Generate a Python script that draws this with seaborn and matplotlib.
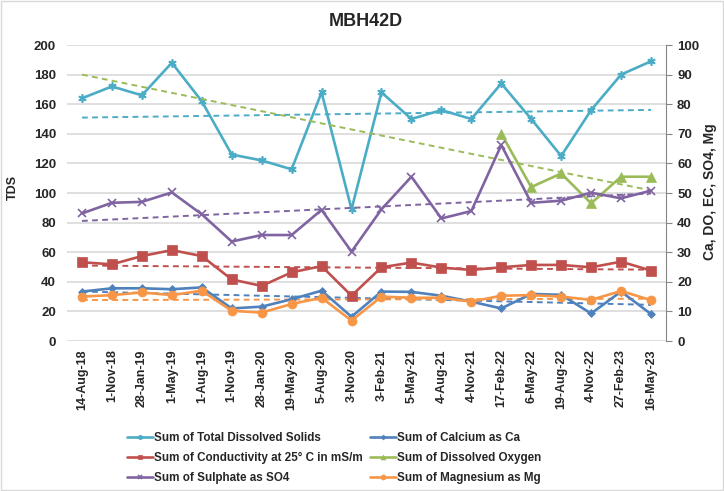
import numpy as np
import pandas as pd
import matplotlib
matplotlib.use("Agg")
import matplotlib.pyplot as plt
import seaborn as sns

# Sampling dates (category axis)
dates = ["14-Aug-18", "1-Nov-18", "28-Jan-19", "1-May-19", "1-Aug-19", "1-Nov-19",
         "28-Jan-20", "19-May-20", "5-Aug-20", "3-Nov-20", "3-Feb-21", "5-May-21",
         "4-Aug-21", "4-Nov-21", "17-Feb-22", "6-May-22", "19-Aug-22", "4-Nov-22",
         "27-Feb-23", "16-May-23"]

# Left axis
tds = [164, 172, 166, 188, 162, 126, 122, 116, 168, 89, 168, 150, 156, 150, 174,
       150, 125, 156, 180, 189]

# Right axis
calcium = [16.7, 17.8, 17.8, 17.5, 18.1, 11.0, 11.6, 14.1, 17.0, 8.2, 16.7, 16.6,
           15.3, 13.3, 11.0, 15.9, 15.6, 9.3, 16.7, 9.1]
conductivity = [26.6, 25.9, 28.7, 30.7, 28.7, 20.8, 18.6, 23.2, 25.3, 15.3, 24.9,
                26.5, 24.8, 24.0, 24.9, 25.7, 25.7, 24.9, 26.8, 23.8]
oxygen = [np.nan] * 14 + [70.0, 52.0, 56.6, 46.5, 55.5, 55.5]
sulphate = [43.1, 46.7, 47.0, 50.2, 42.8, 33.6, 35.8, 35.8, 44.3, 30.2, 44.5, 55.5,
            41.4, 43.9, 66.2, 46.7, 47.4, 50.1, 48.2, 50.8]
magnesium = [15.0, 15.5, 16.4, 15.5, 17.0, 10.2, 9.6, 12.5, 14.6, 6.9, 15.0, 14.6,
             14.6, 13.3, 15.3, 15.5, 15.0, 13.9, 16.9, 13.8]

series_right = [
    ("Sum of Calcium as Ca", calcium, "#4F81BD", "D", 4.5),
    ("Sum of Conductivity at 25° C in mS/m", conductivity, "#C0504D", "s", 6.5),
    ("Sum of Dissolved Oxygen", oxygen, "#9BBB59", "^", 6.5),
    ("Sum of Sulphate as SO4", sulphate, "#8064A2", "x", 6),
    ("Sum of Magnesium as Mg", magnesium, "#F79646", "o", 6.5),
]

sns.set_theme(style="white")
plt.rcParams["font.family"] = ["Liberation Sans", "DejaVu Sans"]

W, H = 724, 491
fig = plt.figure(figsize=(W / 100, H / 100), dpi=100)
left, right, top, bottom = 67, 666, 45, 341
ax = fig.add_axes([left / W, 1 - bottom / H, (right - left) / W, (bottom - top) / H])
ax2 = ax.twinx()

idx = np.arange(len(dates))
text_col = "#262626"


def trend(values):
    v = np.asarray(values, dtype=float)
    ok = ~np.isnan(v)
    k, b = np.polyfit(idx[ok], v[ok], 1)
    return k * idx + b


# Total dissolved solids on the left axis
handles = {}
sns.lineplot(x=idx, y=tds, ax=ax, color="#4BACC6", lw=1.9, marker=(6, 2, 0),
             markersize=6, mec="#4BACC6", mew=1.2, label="Sum of Total Dissolved Solids",
             legend=False, zorder=3)
handles["Sum of Total Dissolved Solids"] = ax.lines[-1]
ax.plot(idx, trend(tds), color="#4BACC6", lw=1.4, ls=(0, (3, 2.2)), zorder=2)

# Remaining parameters on the right axis
for name, vals, col, mk, ms in series_right:
    df = pd.DataFrame({"i": idx, "v": vals}).dropna()
    sns.lineplot(data=df, x="i", y="v", ax=ax2, color=col, lw=1.9, marker=mk,
                 markersize=ms, mec=col, mew=1.2 if mk == "x" else 0.5,
                 label=name, legend=False, zorder=3)
    handles[name] = ax2.lines[-1]
    ax2.plot(idx, trend(vals), color=col, lw=1.4, ls=(0, (3, 2.2)), zorder=2)

# Axes limits and ticks
ax.set_xlim(-0.5, len(dates) - 0.5)
ax.set_ylim(0, 200)
ax2.set_ylim(0, 100)
ax.set_yticks(np.arange(0, 201, 20))
ax2.set_yticks(np.arange(0, 101, 10))
ax.set_xticks(idx)
ax.set_xticklabels(dates, rotation=90, fontsize=9, fontweight="bold", color=text_col)
ax.tick_params(axis="x", length=0, pad=6)
ax.tick_params(axis="y", length=0, pad=8, labelsize=9.5, labelcolor=text_col)
for t in ax.get_yticklabels():
    t.set_fontweight("bold")
ax2.tick_params(axis="y", length=4, width=0.8, color="#868686", direction="out",
                pad=4, labelsize=9.5, labelcolor=text_col)
for t in ax2.get_yticklabels():
    t.set_fontweight("bold")

ax.grid(axis="y", color="#D9D9D9", lw=1.2)
ax.set_axisbelow(True)
for s in ["left", "top", "bottom", "right"]:
    ax.spines[s].set_visible(False)
for s in ["left", "top", "bottom"]:
    ax2.spines[s].set_visible(False)
ax2.spines["right"].set_color("#868686")
ax2.spines["right"].set_linewidth(0.8)
ax2.patch.set_visible(False)

ax.set_xlabel("")
ax.set_ylabel("TDS", fontsize=9, fontweight="bold", color=text_col)
ax.yaxis.set_label_coords((19 - left) / (right - left), 0.52)
ax2.set_ylabel("Ca, DO, EC, SO4, Mg", fontsize=10, fontweight="bold", color=text_col,
               rotation=90, va="center")
ax2.yaxis.set_label_coords((710 - left) / (right - left), 0.505)

fig.text(366 / W, 1 - 21 / H, "MBH42D", ha="center", va="center", fontsize=13,
         fontweight="bold", color=text_col)

# Legend in two columns below the plot
col1 = ["Sum of Total Dissolved Solids", "Sum of Conductivity at 25° C in mS/m",
        "Sum of Sulphate as SO4"]
col2 = ["Sum of Calcium as Ca", "Sum of Dissolved Oxygen", "Sum of Magnesium as Mg"]
leg_kw = dict(frameon=False, borderpad=0, borderaxespad=0,
              handlelength=2.2, handletextpad=0.12, labelspacing=0.68,
              markerscale=0.55, prop={"weight": "bold", "size": 8.4})
leg1 = fig.legend([handles[n] for n in col1], col1, loc="upper left",
                  bbox_to_anchor=(127 / W, 1 - 432 / H), **leg_kw)
leg2 = fig.legend([handles[n] for n in col2], col2, loc="upper left",
                  bbox_to_anchor=(370 / W, 1 - 432 / H), **leg_kw)
for lg in (leg1, leg2):
    for t in lg.get_texts():
        t.set_color(text_col)

# Thin chart border
fig.patches.append(plt.Rectangle((0.002, 0.002), 0.996, 0.996, transform=fig.transFigure,
                                 fill=False, edgecolor="#D9D9D9", lw=1))

fig.savefig("out.png", dpi=100)
